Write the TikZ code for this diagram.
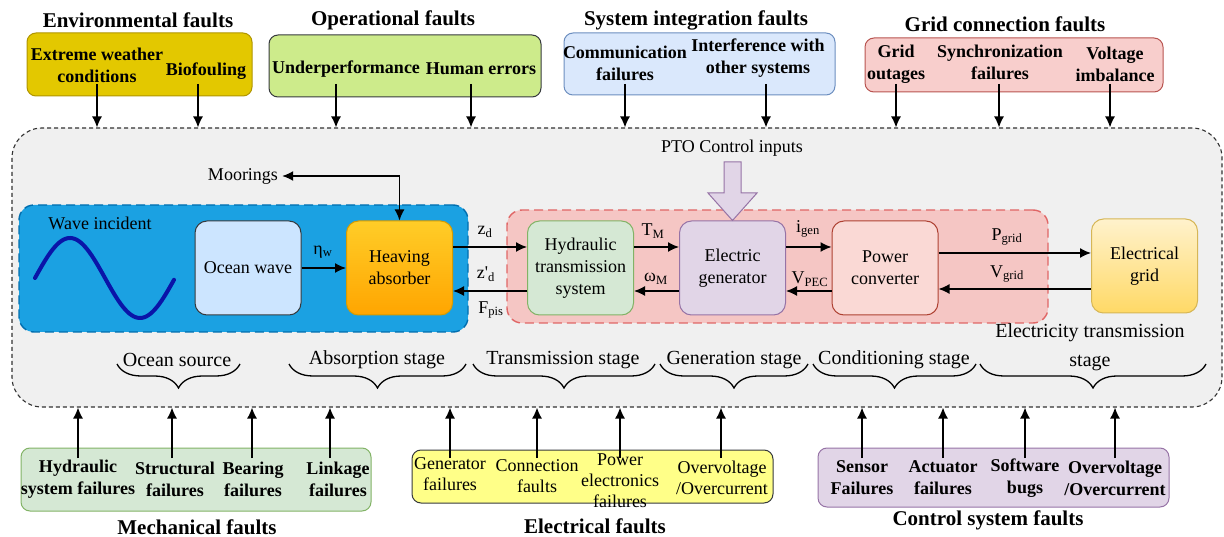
\documentclass[tikz,border=0pt]{standalone}
\usepackage{fontspec}
\setmainfont{Liberation Serif}
\usetikzlibrary{arrows.meta,decorations.pathreplacing,calc}
\definecolor{envfill}{HTML}{E3C800}\definecolor{envdraw}{HTML}{B09500}
\definecolor{opfill}{HTML}{CDEB8B}\definecolor{opdraw}{HTML}{36393D}
\definecolor{sysfill}{HTML}{DAE8FC}\definecolor{sysdraw}{HTML}{6C8EBF}
\definecolor{gcfill}{HTML}{F8CECC}\definecolor{gcdraw}{HTML}{B85450}
\definecolor{mainfill}{HTML}{F0F0F0}\definecolor{maindraw}{HTML}{333333}
\definecolor{bluefill}{HTML}{1BA1E2}\definecolor{bluedraw}{HTML}{006EAF}
\definecolor{pinkfill}{HTML}{F5C6C4}\definecolor{pinkdraw}{HTML}{E06666}
\definecolor{wavecol}{HTML}{0A14A8}
\definecolor{owfill}{HTML}{CCE5FF}
\definecolor{haT}{HTML}{FFCD28}\definecolor{haB}{HTML}{FFA500}\definecolor{hadraw}{HTML}{D79B00}
\definecolor{grnfill}{HTML}{D5E8D4}\definecolor{grndraw}{HTML}{82B366}
\definecolor{purfill}{HTML}{E1D5E7}\definecolor{purdraw}{HTML}{9673A6}
\definecolor{pcfill}{HTML}{FAD9D5}\definecolor{pcdraw}{HTML}{AE4132}
\definecolor{grT}{HTML}{FFF2CC}\definecolor{grB}{HTML}{FFD966}\definecolor{grdraw}{HTML}{D6B656}
\definecolor{elfill}{HTML}{FFFF88}
\begin{document}
\begin{tikzpicture}[x=1pt,y=-1pt,
  hdr/.style={font=\fontsize{21}{24}\selectfont\bfseries, inner sep=0pt},
  itm/.style={font=\fontsize{18}{22}\selectfont\bfseries, align=center, inner sep=0pt},
  itr/.style={font=\fontsize{18}{21}\selectfont, align=center, inner sep=0pt},
  body/.style={font=\fontsize{18}{22}\selectfont, inner sep=0pt},
  stg/.style={font=\fontsize{20}{29}\selectfont, align=center, inner sep=0pt},
  fbox/.style={rounded corners=9pt, line width=1pt, inner sep=0pt},
  blk/.style={rounded corners=12pt, draw, line width=1pt, align=center,
    font=\fontsize{18}{22}\selectfont, minimum width=106pt, minimum height=94pt, inner sep=1pt},
  arr/.style={-{Latex[length=11pt,width=10pt]}, line width=1.4pt},
  darr/.style={{Latex[length=11pt,width=10pt]}-{Latex[length=11pt,width=10pt]}, line width=1.4pt},
  brc/.style={decorate, decoration={brace, amplitude=24pt, mirror}, line width=1.3pt}]
\useasboundingbox (0,0) rectangle (1224,537);

% main area
\node[draw=maindraw, fill=mainfill, dash pattern=on 4pt off 3pt, line width=1.1pt,
  rounded corners=30pt, minimum width=1210pt, minimum height=279pt, inner sep=0pt] (main) at (617,267.5) {};

% top fault boxes
\node[fbox, fill=envfill, draw=envdraw, minimum width=225pt, minimum height=63pt] (envbox) at (139.5,64.5) {};
\node[fbox, fill=opfill, draw=opdraw, minimum width=272pt, minimum height=62pt] (opbox) at (405,66) {};
\node[fbox, fill=sysfill, draw=sysdraw, minimum width=271pt, minimum height=62pt] (sysbox) at (699.5,64) {};
\node[fbox, fill=gcfill, draw=gcdraw, minimum width=298pt, minimum height=54pt] (gcbox) at (1014,65) {};

\node[hdr] (envh) at (138,20) {Environmental faults};
\node[hdr] (oph) at (393,20) {Operational faults};
\node[hdr] (sysh) at (696,20) {System integration faults};
\node[hdr] (gch) at (1005,24) {Grid connection faults};

\node[itm] (t1) at (97,65) {Extreme weather\\conditions};
\node[itm] (t2) at (206,71) {Biofouling};
\node[itm] (t3) at (346,69) {Underperformance};
\node[itm] (t4) at (481,69) {Human errors};
\node[itm] (t5) at (625,63) {Communication\\failures};
\node[itm] (t6) at (758,58) {Interference with\\other systems};
\node[itm] (t7) at (896,64) {Grid\\outages};
\node[itm] (t8) at (1000,62) {Synchronization\\failures};
\node[itm] (t9) at (1115,64) {Voltage\\imbalance};

\foreach \n/\x in {a1/97,a2/198,a3/336,a4/471,a5/625,a6/766,a7/896,a8/999,a9/1110}{
  \coordinate (\n) at (\x,84);
  \draw[arr] (\n) -- (\n |- main.north);
}

% stage regions
\node[fill=bluefill, draw=bluedraw, dash pattern=on 9pt off 5pt, line width=1.4pt,
  rounded corners=15pt, minimum width=449pt, minimum height=127pt, inner sep=0pt] (blue) at (243.5,268.5) {};
\node[fill=pinkfill, draw=pinkdraw, dash pattern=on 9pt off 5pt, line width=1.4pt,
  rounded corners=15pt, minimum width=541pt, minimum height=113pt, inner sep=0pt] (pink) at (777.5,266.5) {};

% wave
\draw[wavecol, line width=4pt, line cap=round, domain=35:174, samples=80, smooth]
  plot (\x, {278-40*sin(2.5714*(\x-35))});
\node[body] (wi) at (100,223) {Wave incident};

% blocks
\node[blk, fill=owfill, draw=opdraw] (ow) at (248,268) {Ocean wave};
\node[blk, top color=haT, bottom color=haB, draw=hadraw] (ha) at (399.5,268) {Heaving\\absorber};
\node[blk, fill=grnfill, draw=grndraw] (hts) at (580.5,268) {Hydraulic\\transmission\\system};
\node[blk, fill=purfill, draw=purdraw] (eg) at (732.5,268) {Electric\\generator};
\node[blk, fill=pcfill, draw=pcdraw] (pc) at (885,268) {Power\\converter};
\node[blk, top color=grT, bottom color=grB, draw=grdraw] (grid) at (1144.5,266) {Electrical\\grid};

\coordinate (ytop) at (0,247);
\coordinate (ybot) at (0,291);
\coordinate (ytop2) at (0,253);
\coordinate (ybot2) at (0,289);

\draw[arr] (ow) -- (ha);
\node[body] at (323,252) {η\textsubscript{w}};

\draw[arr] (ha.east |- ytop) -- (hts.west |- ytop);
\draw[arr] (hts.west |- ybot) -- (ha.east |- ybot);
\node[body] at (485,232) {z\textsubscript{d}};
\node[body] at (486,274) {z\textquotesingle\textsubscript{d}};
\node[body] at (491,310) {F\textsubscript{pis}};

\draw[arr] (hts.east |- ytop) -- (eg.west |- ytop);
\draw[arr] (eg.west |- ybot) -- (hts.east |- ybot);
\node[body] at (653,231) {T\textsubscript{M}};
\node[body] at (656,279) {ω\textsubscript{M}};

\draw[arr] (eg.east |- ytop) -- (pc.west |- ytop);
\draw[arr] (pc.west |- ybot) -- (eg.east |- ybot);
\node[body] at (808,229) {i\textsubscript{gen}};
\node[body] at (810,279) {V\textsubscript{PEC}};

\draw[arr] (pc.east |- ytop2) -- (grid.west |- ytop2);
\draw[arr] (grid.west |- ybot2) -- (pc.east |- ybot2);
\node[body] at (1007,237) {P\textsubscript{grid}};
\node[body] at (1007,274) {V\textsubscript{grid}};

% moorings
\node[body, inner sep=4pt] (moor) at (243,176) {Moorings};
\draw[darr] (moor.east) -| (ha.north);

% PTO
\node[body] (pto) at (732,148) {PTO Control inputs};
\draw[fill=purfill, draw=purdraw, line width=1pt]
  (724,162) -- (741,162) -- (741,193) -- (757,193) -- (eg.north) -- (708,193) -- (724,193) -- cycle;

% stages
\node[stg] (s1) at (177,360) {Ocean source};
\node[stg] (s2) at (377,360) {Absorption stage};
\node[stg] (s3) at (563,360) {Transmission stage};
\node[stg] (s4) at (734,360) {Generation stage};
\node[stg] (s5) at (894,360) {Conditioning stage};
\node[stg] (s6) at (1090,347) {Electricity transmission\\stage};
\draw[brc] (117,364) -- (240,364);
\draw[brc] (289,364) -- (466,364);
\draw[brc] (473,364) -- (655,364);
\draw[brc] (660,364) -- (808,364);
\draw[brc] (813,364) -- (976,364);
\draw[brc] (980,364) -- (1206,364);

% bottom boxes
\node[fbox, fill=grnfill, draw=grndraw, minimum width=350pt, minimum height=63pt] (mbox) at (196,479.5) {};
\node[fbox, fill=elfill, draw=opdraw, minimum width=361pt, minimum height=53pt] (ebox) at (592.5,476.5) {};
\node[fbox, fill=purfill, draw=purdraw, minimum width=351pt, minimum height=59pt] (cbox) at (993.5,477.5) {};

\node[hdr] (mh) at (197,527) {Mechanical faults};
\node[hdr] (eh) at (595,526) {Electrical faults};
\node[hdr] (ch) at (988,520) {Control system faults};

\node[itm] (m1) at (78,479) {Hydraulic\\system failures};
\node[itm] (m2) at (175,479) {Structural\\failures};
\node[itm] (m3) at (253,479) {Bearing\\failures};
\node[itm] (m4) at (338,479) {Linkage\\failures};

\node[itr] (e1) at (450,474) {Generator\\failures};
\node[itr] (e2) at (537,476) {Connection\\faults};
\node[itr] (e3) at (620,481) {Power\\electronics\\failures};
\node[itr] (e4) at (722,478) {Overvoltage\\/Overcurrent};

\node[itm] (c1) at (862,478) {Sensor\\Failures};
\node[itm] (c2) at (943,478) {Actuator\\failures};
\node[itm] (c3) at (1025,478) {Software\\bugs};
\node[itm] (c4) at (1115,478) {Overvoltage\\/Overcurrent};

\foreach \n/\x in {b1/78,b2/172,b3/252,b4/330,b5/450,b6/537,b7/620,b8/721,b9/862,b10/943,b11/1025,b12/1115}{
  \coordinate (\n) at (\x,458);
  \draw[arr] (\n) -- (\n |- main.south);
}
\end{tikzpicture}
\end{document}
